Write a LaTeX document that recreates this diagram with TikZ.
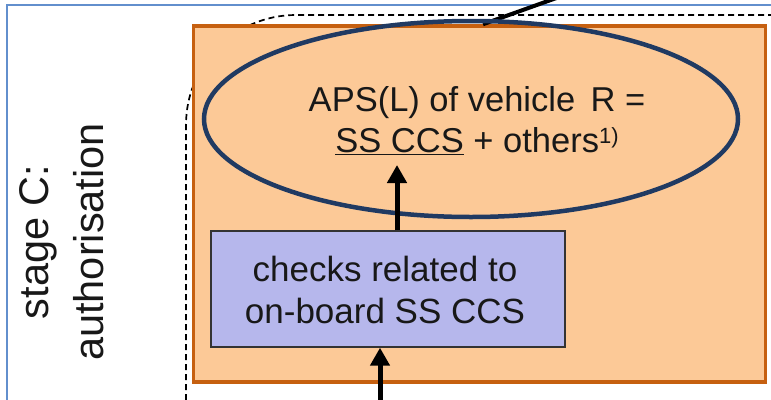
\documentclass[tikz,border=0pt]{standalone}
\usepackage{fontspec}
\setmainfont{Liberation Sans}
\usetikzlibrary{arrows.meta,shapes.geometric}

\definecolor{frameblue}{RGB}{98,143,205}
\definecolor{stagefill}{RGB}{252,201,151}
\definecolor{stageedge}{RGB}{198,96,16}
\definecolor{apsedge}{RGB}{32,58,98}
\definecolor{checkfill}{RGB}{182,183,236}
\definecolor{inktext}{RGB}{24,24,24}

\tikzset{
  framing/.style={draw=frameblue, line width=1.5pt},
  scopeline/.style={draw=black, line width=1.7pt, dash pattern=on 6pt off 4pt},
  stagebox/.style={draw=stageedge, fill=stagefill, line width=3.5pt, inner sep=0pt},
  apsring/.style={ellipse, draw=apsedge, line width=4.5pt, inner sep=0pt},
  checkbox/.style={draw=black!80, fill=checkfill, line width=1.4pt, inner sep=0pt},
  label/.style={text=inktext, inner sep=0pt, align=center},
  flow/.style={draw=black, line width=5pt, -{Triangle[length=18pt,width=19pt]}},
  exitline/.style={draw=black, line width=4pt},
}

\begin{document}
\begin{tikzpicture}[x=1pt, y=-1pt]
\useasboundingbox (0,0) rectangle (771,399);

% outer lane frame
\draw[framing] (7,420) |- (790,5);

% dashed scope of the authorisation stage
\draw[scopeline, rounded corners=110pt] (186,420) |- (790,15);

% stage box
\node[stagebox, minimum width=572pt, minimum height=356pt] (stage) at (479.5,204) {};

% connector leaving the stage box upwards
\coordinate (away) at (562,-4);
\draw[exitline] ([xshift=3.5pt]stage.north) -- (away);

% authorised placing in service
\node[apsring, minimum width=534pt, minimum height=196pt] (apsl) at (471,119) {};
\node[label, font=\fontsize{34.5}{41}\selectfont, anchor=base] (apstext) at (477,152)
  {APS(L) of vehicle\, R =\\[0pt]\underline{SS CCS} + others\raisebox{9pt}{\fontsize{22}{22}\selectfont 1)}};

% checks box
\node[checkbox, minimum width=354pt, minimum height=116pt] (chk) at (388,289) {};
\node[label, font=\fontsize{35}{42}\selectfont, anchor=base] (chktext) at (385,323)
  {checks related to\\on-board SS CCS};

% connectors
\coordinate (apsin) at (397,165);
\draw[flow] (chk.north -| apsin) -- (apsin);
\coordinate (below) at (380,420);
\draw[flow] (below) -- (chk.south -| below);

% stage label
\node[label, rotate=90, font=\fontsize{41.5}{55}\selectfont] (stagename) at (62,242)
  {stage C:\\authorisation};
\end{tikzpicture}
\end{document}
